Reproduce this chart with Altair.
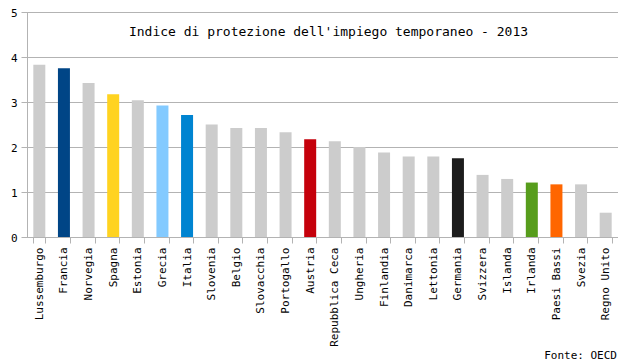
import altair as alt
import pandas as pd

paesi = ["Lussemburgo", "Francia", "Norvegia", "Spagna", "Estonia", "Grecia", "Italia",
         "Slovenia", "Belgio", "Slovacchia", "Portogallo", "Austria", "Repubblica Ceca",
         "Ungheria", "Finlandia", "Danimarca", "Lettonia", "Germania", "Svizzera",
         "Islanda", "Irlanda", "Paesi Bassi", "Svezia", "Regno Unito"]
valori = [3.83, 3.75, 3.42, 3.17, 3.04, 2.92, 2.71, 2.50, 2.42, 2.42, 2.33, 2.17, 2.13,
          2.00, 1.88, 1.79, 1.79, 1.75, 1.38, 1.29, 1.21, 1.17, 1.17, 0.54]
colori = ["#cccccc", "#004586", "#cccccc", "#ffd320", "#cccccc", "#83caff", "#0084d1",
          "#cccccc", "#cccccc", "#cccccc", "#cccccc", "#c5000b", "#cccccc",
          "#cccccc", "#cccccc", "#cccccc", "#cccccc", "#1c1c1c", "#cccccc",
          "#cccccc", "#579d1c", "#ff6600", "#cccccc", "#cccccc"]

df = pd.DataFrame({"paese": paesi, "valore": valori, "colore": colori})

W, H = 591, 225
FONT = "DejaVu Sans Mono"

bars = alt.Chart(df).mark_bar(size=12).encode(
    x=alt.X("paese:N", sort=paesi, title=None,
            scale=alt.Scale(paddingInner=0.5, paddingOuter=0.25),
            axis=alt.Axis(labelAngle=-90, labelFont=FONT, labelFontSize=11,
                          labelColor="#000000", tickBand="extent", tickSize=6,
                          tickColor="#b3b3b3", domainColor="#b3b3b3",
                          labelPadding=4, labelBaseline="middle", labelAlign="right")),
    y=alt.Y("valore:Q", title=None,
            scale=alt.Scale(domain=[0, 5]),
            axis=alt.Axis(values=[0, 1, 2, 3, 4, 5], format="d", labelFont=FONT,
                          labelFontSize=11, labelColor="#000000", tickSize=6,
                          tickColor="#b3b3b3", domainColor="#b3b3b3",
                          gridColor="#b3b3b3", labelPadding=4, labelOffset=1)),
    color=alt.Color("colore:N", scale=None),
)

titolo = alt.Chart(pd.DataFrame({"t": ["Indice di protezione dell'impiego temporaneo - 2013"]})).mark_text(
    font=FONT, fontSize=13, color="#000000", align="center", baseline="middle"
).encode(x=alt.value(W / 2 + 6), y=alt.value(20), text="t:N")

fonte = alt.Chart(pd.DataFrame({"t": ["Fonte: OECD"]})).mark_text(
    font=FONT, fontSize=11, color="#000000", align="right", baseline="middle"
).encode(x=alt.value(W - 1), y=alt.value(H + 119), text="t:N")

chart = alt.layer(bars, titolo, fonte).properties(
    width=W, height=H,
    autosize=alt.AutoSizeParams(type="none"),
    padding={"left": 19, "top": 4, "right": 0, "bottom": 125},
    background="#ffffff",
).configure_view(stroke="#b3b3b3", strokeWidth=1)

chart.save("out.html", embed_options={"renderer": "svg", "actions": False})
